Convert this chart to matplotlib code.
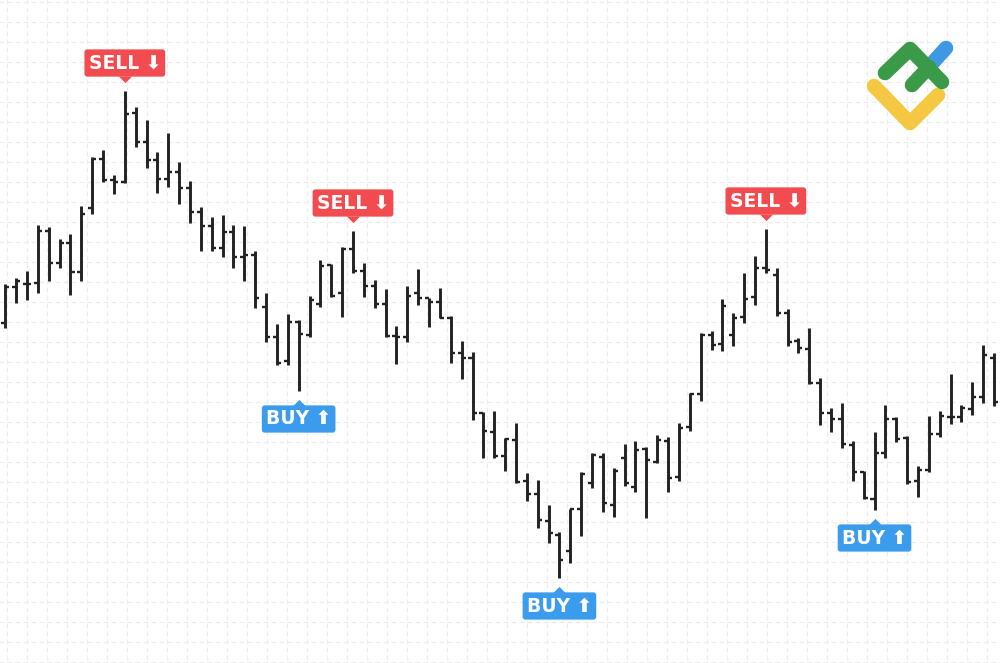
import numpy as np
import matplotlib.pyplot as plt
from matplotlib.transforms import offset_copy

# OHLC bars, price in arbitrary points
opens = [340, 376, 379, 380, 432, 400, 420, 391, 455, 504, 483, 481, 550, 521, 503, 484,
         491, 475, 451, 437, 415, 431, 406, 408, 356, 326, 302, 341, 328, 359, 398, 370,
         414, 392, 377, 359, 327, 326, 370, 365, 361, 345, 310, 305, 250, 231, 207, 223,
         182, 169, 142, 128, 112, 154, 180, 206, 158, 205, 176, 214, 201, 222, 186, 236,
         269, 328, 319, 328, 346, 366, 395, 388, 350, 322, 314, 280, 250, 244, 218, 191,
         164, 210, 244, 225, 182, 193, 229, 246, 246, 254, 266, 305]
highs = [379, 385, 392, 438, 436, 424, 429, 457, 506, 513, 488, 572, 556, 543, 511, 530,
         501, 482, 456, 446, 448, 438, 437, 412, 370, 339, 349, 343, 367, 403, 399, 416,
         432, 400, 383, 374, 337, 377, 394, 365, 375, 347, 322, 311, 251, 252, 225, 240,
         190, 183, 158, 131, 154, 191, 210, 210, 195, 219, 222, 216, 228, 226, 240, 270,
         330, 332, 364, 350, 390, 407, 434, 395, 354, 325, 335, 285, 255, 260, 222, 192,
         231, 258, 246, 227, 197, 247, 252, 289, 258, 281, 318, 310]
lows = [335, 360, 363, 370, 382, 395, 368, 382, 449, 481, 469, 480, 516, 495, 470, 476,
        459, 440, 412, 412, 406, 395, 382, 355, 321, 298, 298, 272, 326, 356, 366, 346,
        390, 366, 355, 326, 299, 321, 358, 336, 345, 300, 284, 243, 205, 205, 192, 180,
        162, 135, 120, 85, 100, 127, 175, 151, 146, 177, 171, 145, 200, 171, 182, 232,
        262, 313, 312, 317, 340, 358, 390, 347, 317, 310, 279, 238, 231, 215, 182, 164,
        153, 205, 221, 179, 166, 191, 226, 239, 241, 248, 260, 257]
closes = [376, 382, 379, 432, 400, 420, 391, 449, 504, 483, 481, 549, 521, 503, 484, 491,
          475, 451, 437, 415, 431, 406, 408, 365, 326, 300, 341, 329, 363, 397, 367, 414,
          392, 377, 359, 327, 326, 367, 365, 361, 345, 310, 305, 250, 232, 207, 224, 181,
          169, 143, 130, 103, 154, 189, 208, 160, 192, 180, 213, 203, 223, 185, 235, 269,
          328, 318, 357, 345, 364, 395, 393, 350, 321, 315, 280, 250, 244, 219, 191, 165,
          210, 244, 224, 181, 193, 229, 247, 246, 255, 266, 308, 261]

# bar index of each signal
sell_bars = [11, 32, 70]
buy_bars = [27, 51, 80]

RED = '#f24c50'
BLUE = '#3b9cee'
BAR = '#222222'

fig = plt.figure(figsize=(10, 6.63), dpi=100)

# background grid + logo, drawn in pixel space
bg = fig.add_axes([0, 0, 1, 1])
bg.set_xlim(0, 1000)
bg.set_ylim(663, 0)
bg.axis('off')
for gx in np.arange(6.7, 1000, 20):
    bg.plot([gx, gx], [-21.3, 700], color='#ececec', lw=0.8, dashes=(4.3, 2.9))
for gy in np.arange(1.7, 663, 20):
    bg.plot([-16.3, 1020], [gy, gy], color='#ececec', lw=0.8, dashes=(4.3, 2.9))

lw_logo = 10.5
bg.plot([874, 910, 938], [86, 123, 95], color='#f4c843', lw=lw_logo,
        solid_capstyle='round', solid_joinstyle='round')
bg.plot([928, 946], [68, 48], color='#3f98e4', lw=lw_logo, solid_capstyle='round')
bg.plot([885, 910, 942], [73, 49, 82], color='#3b9a48', lw=lw_logo,
        solid_capstyle='round', solid_joinstyle='round')
bg.plot([912, 929], [85, 67], color='#3b9a48', lw=lw_logo, solid_capstyle='round')

# price bars
ax = fig.add_axes([0, 0, 1, 1])
ax.patch.set_alpha(0)
ax.axis('off')
x = np.arange(len(opens))
ax.set_xlim(-0.488, 91.55)
ax.set_ylim(0, 663)

ax.vlines(x, lows, highs, color=BAR, lw=2.1)
ax.hlines(opens, x - 0.37, x, color=BAR, lw=1.7)
ax.hlines(closes, x, x + 0.37, color=BAR, lw=1.7)

def signal(i, y, text, color, up):
    sign = 1 if up else -1
    t_box = offset_copy(ax.transData, fig=fig, x=0, y=sign * 28, units='dots')
    ax.text(x[i], y, text, transform=t_box, ha='center', va='center',
            fontsize=13.5, fontweight='bold', color='white',
            bbox=dict(boxstyle='round,pad=0.22,rounding_size=0.15', fc=color, ec='none'))
    t_tip = offset_copy(ax.transData, fig=fig, x=0, y=sign * 15, units='dots')
    tip = [(-1, 0), (1, 0), (0, -1)] if up else [(-1, 0), (1, 0), (0, 1)]
    ax.plot(x[i], y, transform=t_tip, marker=tip, ms=9.5, mew=0, color=color)

for i in sell_bars:
    signal(i, highs[i], 'SELL ⬇', RED, True)
for i in buy_bars:
    signal(i, lows[i], 'BUY ⬆', BLUE, False)

fig.savefig('out.png', dpi=100)
